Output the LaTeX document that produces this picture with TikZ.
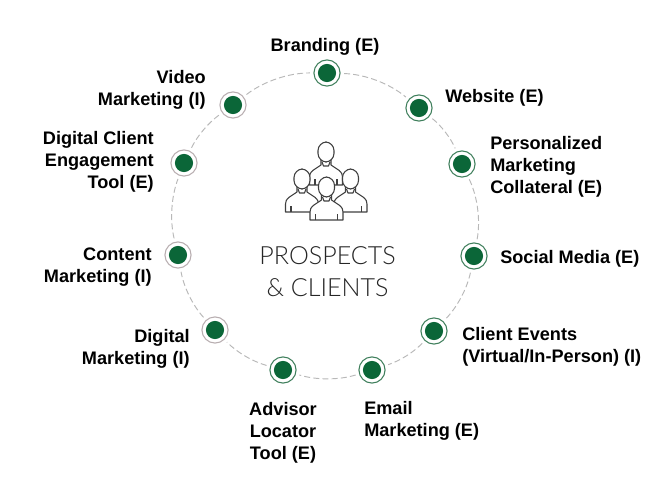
\documentclass[tikz,border=0pt]{standalone}
\usepackage{fontspec}
\setmainfont{Liberation Sans}
\newfontfamily\thinfont[UprightFont={* Light}]{Lato}
\definecolor{dotgreen}{HTML}{0B6638}
\definecolor{ringgreen}{HTML}{3F7F5C}
\definecolor{ringgray}{HTML}{B8AEB0}
\definecolor{dashgray}{HTML}{B8B8B8}
\definecolor{iconline}{HTML}{404040}
\tikzset{
  spot/.style={circle,fill=white,line width=0.8pt,minimum size=19.6pt,inner sep=0pt,outer sep=0pt,
    path picture={\fill[dotgreen] (path picture bounding box.center) circle (6.8pt);}},
  ringe/.style={spot,draw=ringgreen},
  ringi/.style={spot,draw=ringgray},
  lab/.style={font=\fontsize{13.6}{16.5}\selectfont\bfseries,text=black,inner sep=0pt},
  arcdash/.style={draw=dashgray,line width=0.7pt,dash pattern=on 4.5pt off 2.4pt,shorten >=3pt,shorten <=3pt,looseness=0.87},
  bodyline/.style={draw=iconline,line width=0.8pt,fill=white,line join=round},
  centre/.style={font=\thinfont\fontsize{18.8}{22}\selectfont,text=black!85,inner sep=0pt},
  person/.pic={
    \draw[bodyline] (-16.5,33) -- (-16.5,25) .. controls (-16.5,19) and (-12,18) .. (-5,13) -- (-5,8) -- (5,8) -- (5,13) .. controls (12,18) and (16.5,19) .. (16.5,25) -- (16.5,33) -- cycle;
    \draw[bodyline] (-11,33) -- (-11,27) (11,33) -- (11,27);
    \draw[bodyline,rounded corners=6.5pt] (-8,-10) rectangle (8,10);
    \draw[bodyline,fill=none] (-4,10) -- (-2.5,14) -- (2.5,14) -- (4,10);
  }
}
\begin{document}
\begin{tikzpicture}[x=0.75pt,y=-0.75pt]
\path[use as bounding box,fill=white] (0,0) rectangle (671,492);
% spots
\node[ringe] (brand) at (327,73) {};
\node[ringe] (web) at (419,108) {};
\node[ringe] (coll) at (462,164) {};
\node[ringe] (social) at (474,256) {};
\node[ringe] (events) at (434,331) {};
\node[ringe] (email) at (372,370) {};
\node[ringe] (locator) at (283,370) {};
\node[ringi] (digital) at (215,330) {};
\node[ringi] (content) at (178,255) {};
\node[ringi] (tool) at (184,163) {};
\node[ringi] (video) at (233,105) {};
% dashed arcs
\path[arcdash] (brand) to[bend left=19] (web);
\path[arcdash] (web) to[bend left=14] (coll);
\path[arcdash] (coll) to[bend left=18] (social);
\path[arcdash] (social) to[bend left=16] (events);
\path[arcdash] (events) to[bend left=14] (email);
\path[arcdash] (email) to[bend left=17] (locator);
\path[arcdash] (locator) to[bend left=15] (digital);
\path[arcdash] (digital) to[bend left=16] (content);
\path[arcdash] (content) to[bend left=17] (tool);
\path[arcdash] (tool) to[bend left=14] (video);
\path[arcdash] (video) to[bend left=19] (brand);
% labels
\node[lab,anchor=center] (lbrand) at (325,46.5) {Branding (E)};
\node[lab,anchor=west] (lweb) at (445,97.5) {Website (E)};
\node[lab,anchor=west,align=left] (lcoll) at (490,166.5) {Personalized\\Marketing\\Collateral (E)};
\node[lab,anchor=west] (lsocial) at (500,258.5) {Social Media (E)};
\node[lab,anchor=west,align=left] (levents) at (462,346.5) {Client Events\\(Virtual/In-Person) (I)};
\node[lab,anchor=west,align=left] (lemail) at (364,420.5) {Email\\Marketing (E)};
\node[lab,anchor=center,align=center] (lloc) at (283,432.5) {Advisor\\Locator\\Tool (E)};
\node[lab,anchor=east,align=right] (ldig) at (190,348.5) {Digital\\Marketing (I)};
\node[lab,anchor=east,align=right] (lcont) at (152,267.5) {Content\\Marketing (I)};
\node[lab,anchor=east,align=right] (ltool) at (154,161.5) {Digital Client\\Engagement\\Tool (E)};
\node[lab,anchor=east,align=right] (lvideo) at (206,89.5) {Video\\Marketing (I)};
% centre
\pic at (326,152) {person};
\pic at (302,179) {person};
\pic at (350.5,179) {person};
\pic at (326.5,187) {person};
\node[centre] (t1) at (327.5,256) {PROSPECTS};
\node[centre] (t2) at (327.5,288) {\&\ CLIENTS};
\end{tikzpicture}
\end{document}
